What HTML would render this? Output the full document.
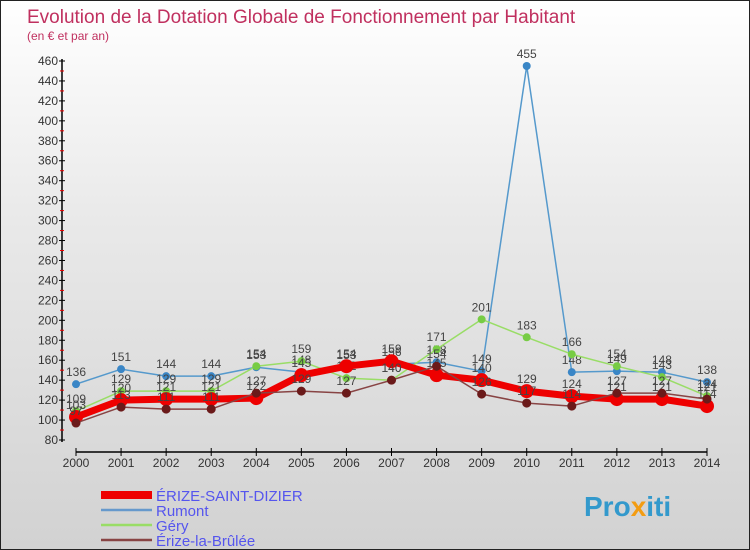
<!DOCTYPE html>
<html><head><meta charset="utf-8"><style>
body{margin:0}
#wrap{width:750px;height:550px;position:relative;overflow:hidden;box-sizing:border-box;border:1px solid #222;background:linear-gradient(#ffffff,#e9e9e9 40%,#d2d2d2);font-family:"Liberation Sans",sans-serif}
</style></head><body>
<div id="wrap">
<svg id="svg" width="750" height="550" style="position:absolute;left:0;top:0">
<text x="26" y="22" font-size="19" fill="#c0305f">Evolution de la Dotation Globale de Fonctionnement par Habitant</text>
<text x="26" y="39" font-size="12" fill="#c0305f">(en € et par an)</text>
<g id="axes"></g><g id="series"></g><g id="legend"></g>
<text x="583" y="515" font-size="28" font-weight="bold" fill="#3399cc">Pro<tspan fill="#f39c12">x</tspan>iti</text>
</svg>
</div>
<script>
const years=[2000,2001,2002,2003,2004,2005,2006,2007,2008,2009,2010,2011,2012,2013,2014];
const yTicks=[80,100,120,140,160,180,200,220,240,260,280,300,320,340,360,380,400,420,440,460];
const names=["ÉRIZE-SAINT-DIZIER","Rumont","Géry","Érize-la-Brûlée"];
const erize=[103,120,121,121,122,145,154,159,145,140,129,124,121,121,114];
const rumont=[136,151,144,144,153,148,153,156,158,149,455,148,149,148,138];
const gery=[109,129,129,129,154,159,142,140,171,201,183,166,154,143,124];
const brulee=[97,113,111,111,127,129,127,140,154,126,117,114,127,127,121];
const NS="http://www.w3.org/2000/svg";
const X=i=>75+i*(706-75)/(years.length-1);
const Y=v=>439-(v-80)*(379/380);
function mk(t,a,p){const e=document.createElementNS(NS,t);for(const k in a)e.setAttribute(k,a[k]);p.appendChild(e);return e;}
const ax=document.getElementById('axes');
let l=mk('line',{x1:61,y1:58,x2:61,y2:441,stroke:'#000','stroke-width':1.5},ax);


l=mk('line',{x1:75,y1:451,x2:706,y2:451,stroke:'#000','stroke-width':1.5},ax);


yTicks.forEach((v,i)=>{
 mk('line',{x1:58,x2:64,y1:Y(v),y2:Y(v),stroke:'#000'},ax);
 if(i<yTicks.length-1) mk('line',{x1:59,x2:63,y1:Y(v+10),y2:Y(v+10),stroke:'#e00'},ax);
 const t=mk('text',{x:57,y:Y(v)+4,'font-size':12,'text-anchor':'end',fill:'#333'},ax);
 t.textContent=v;
 
 
});
years.forEach((yr,i)=>{
 mk('line',{x1:X(i),x2:X(i),y1:447,y2:455,stroke:'#000'},ax);
 const t=mk('text',{x:X(i),y:466,'font-size':12,'text-anchor':'middle',fill:'#333'},ax);
 t.textContent=yr;
 
 
});
const sg=document.getElementById('series');
const defs=[[rumont,'#5599cc','#3a86c6',1.5,4,'series-rumont'],[gery,'#99dd66','#77cc44',1.5,4,'series-gery'],[erize,'#ee0000','#ee0000',7,7,'series-erize-saint-dizier'],[brulee,'#884444','#6b1a1a',1.5,4.5,'series-erize-la-brulee']];
defs.forEach(([d,lc,pc,w,r,nm])=>{
 const g=mk('g',{},sg);
 
 
 mk('polyline',{points:d.map((v,i)=>X(i)+','+Y(v)).join(' '),fill:'none',stroke:lc,'stroke-width':w,'stroke-linejoin':'round'},g);
 d.forEach((v,i)=>{
  const c=mk('circle',{cx:X(i),cy:Y(v),r:r,fill:pc},g);
  
  
  const t=mk('text',{x:X(i),y:Y(v)-8,'font-size':12,'text-anchor':'middle',fill:'#444'},g);
  t.textContent=v;
  
  
 });
});
const lg=document.getElementById('legend');
const lcol=['#ee0000','#6699cc','#99dd66','#884444'],lw=[8,2.5,2.5,2.5];
names.forEach((n,i)=>{
 const y=494+i*15;
 const g=mk('g',{},lg);
 
 
 mk('line',{x1:100,x2:151,y1:y,y2:y,stroke:lcol[i],'stroke-width':lw[i]},g);
 const t=mk('text',{x:155,y:y+6,'font-size':15,fill:'#5555ee'},g);
 t.textContent=n;
});
</script>
</body></html>
